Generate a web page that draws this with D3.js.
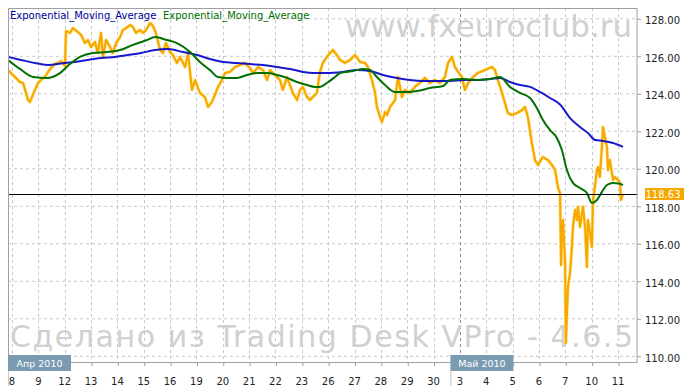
<!DOCTYPE html>
<html>
<head>
<meta charset="utf-8">
<script src="https://cdnjs.cloudflare.com/ajax/libs/d3/7.8.5/d3.min.js"></script>
<style>
body { margin: 0; background: #fff; }
svg text { font-family: "DejaVu Sans", Verdana, sans-serif; }
</style>
</head>
<body>
<div id="chart"></div>
<script>
// trading days shown on the axis (index = position on the time scale)
var days = ["8","9","12","13","14","15","16","19","20","21","22","23","26",
            "27","28","29","30","3","4","5","6","7","10","11"];
var monthLabels = ["Апр 2010", "Май 2010"];
var monthStart = [0, 17];
var yTicks = [110, 112, 114, 116, 118, 120, 122, 124, 126, 128];
var lastPrice = 118.63;
var legendNames = ["Exponential_Moving_Average", "Exponential_Moving_Average"];

// [trading day, price]
var price = [
[-0.15,125.24],[-0.04,125.08],[0.11,124.87],[0.30,124.60],[0.42,124.55],[0.53,124.02],[0.61,123.64],[0.68,123.54],
[0.76,123.80],[0.87,124.18],[0.99,124.55],[1.10,124.71],[1.25,124.87],[1.37,125.14],[1.48,125.35],[1.63,125.56],
[1.75,125.62],[1.86,125.72],[2.01,125.46],[2.05,127.32],[2.20,127.22],[2.31,127.48],[2.50,127.27],[2.62,127.11],
[2.77,126.68],[2.88,126.84],[3.00,126.47],[3.15,126.74],[3.26,126.15],[3.38,127.22],[3.45,125.94],[3.57,126.84],
[3.72,126.47],[3.83,126.15],[3.95,126.68],[4.10,127.00],[4.21,127.38],[4.33,127.48],[4.48,127.64],[4.59,127.54],
[4.71,127.22],[4.86,127.38],[4.97,127.22],[5.09,127.38],[5.24,127.75],[5.35,127.59],[5.46,127.22],[5.62,126.31],
[5.73,126.15],[5.84,126.68],[6.00,126.20],[6.11,126.04],[6.26,125.62],[6.38,125.94],[6.57,125.40],[6.68,126.15],
[6.83,124.18],[6.95,124.71],[7.13,124.02],[7.32,123.80],[7.44,123.27],[7.59,123.54],[7.70,123.91],[7.82,124.34],
[7.97,124.71],[8.08,125.08],[8.27,125.14],[8.46,125.40],[8.65,125.51],[8.84,125.62],[9.03,125.35],[9.15,125.08],
[9.34,125.40],[9.53,125.24],[9.68,124.71],[9.79,125.24],[9.98,124.98],[10.17,124.71],[10.28,124.18],[10.44,124.87],
[10.55,124.44],[10.66,124.02],[10.82,123.64],[10.93,124.18],[11.04,124.34],[11.20,123.80],[11.31,123.64],[11.42,123.80],
[11.57,124.02],[11.69,125.14],[11.80,125.62],[11.95,125.94],[12.07,126.15],[12.18,126.31],[12.33,126.04],[12.45,125.78],
[12.64,125.62],[12.83,125.78],[13.02,126.04],[13.21,125.67],[13.40,125.62],[13.51,125.40],[13.66,124.71],[13.78,124.02],
[13.85,123.27],[13.97,122.74],[14.04,122.47],[14.16,123.00],[14.23,122.84],[14.35,123.27],[14.54,123.64],[14.65,124.87],
[14.80,123.80],[14.91,124.18],[15.10,124.02],[15.29,124.34],[15.48,124.55],[15.67,124.82],[15.86,124.55],[16.05,124.71],
[16.24,124.55],[16.43,124.87],[16.55,125.62],[16.70,125.94],[16.81,125.40],[16.93,125.14],[17.08,124.87],[17.19,124.18],
[17.31,124.55],[17.50,124.87],[17.68,125.08],[17.95,125.24],[18.22,125.40],[18.33,125.24],[18.44,124.71],[18.60,124.02],
[18.71,123.48],[18.82,122.95],[18.98,122.84],[19.17,122.95],[19.36,123.11],[19.47,123.27],[19.58,122.74],[19.73,121.35],
[19.85,120.44],[19.96,120.18],[20.15,120.60],[20.34,120.44],[20.49,120.18],[20.61,119.91],[20.72,119.00],[20.80,118.68],
[20.84,114.84],[20.87,116.55],[20.91,117.24],[20.99,115.11],[21.02,110.68],[21.10,113.67],[21.18,114.42],[21.25,115.80],
[21.29,116.87],[21.37,117.78],[21.44,117.24],[21.48,117.95],[21.56,116.87],[21.67,117.95],[21.75,116.87],[21.82,114.74],
[21.86,117.24],[21.94,116.55],[22.01,115.80],[22.05,118.31],[22.12,119.00],[22.20,119.91],[22.24,120.07],[22.31,119.54],
[22.39,121.14],[22.43,122.20],[22.50,121.67],[22.58,121.14],[22.62,119.91],[22.69,120.44],[22.81,119.38],[22.88,119.54],
[23.00,119.38],[23.08,119.22],[23.11,118.31],[23.19,118.63]
];

// slow EMA (blue)
var emaSlow = [
[-0.15,125.94],[0.34,125.78],[0.87,125.62],[1.44,125.51],[2.01,125.62],[2.39,125.67],[2.88,125.78],[3.38,125.88],
[3.91,125.94],[4.40,126.04],[4.90,126.15],[5.43,126.31],[5.92,126.36],[6.49,126.20],[7.02,126.04],[7.51,125.83],
[8.01,125.67],[8.54,125.62],[9.03,125.56],[9.53,125.51],[10.06,125.40],[10.55,125.30],[11.04,125.14],[11.42,125.08],
[11.95,125.08],[12.56,125.14],[13.09,125.24],[13.59,125.19],[14.08,124.98],[14.61,124.82],[15.10,124.71],[15.60,124.66],
[16.13,124.66],[16.62,124.66],[17.12,124.71],[17.65,124.71],[18.14,124.76],[18.52,124.82],[18.90,124.60],[19.28,124.44],
[19.66,124.34],[20.04,124.07],[20.42,123.75],[20.80,123.40],[21.18,122.68],[21.56,122.20],[21.86,121.88],[22.13,121.51],
[22.43,121.46],[22.81,121.35],[23.19,121.14]
];

// fast EMA (green)
var emaFast = [
[-0.15,125.78],[0.30,125.30],[0.80,124.87],[1.33,124.82],[1.82,125.08],[2.20,125.56],[2.58,125.94],[3.07,126.15],
[3.61,126.20],[4.10,126.31],[4.59,126.58],[5.12,126.84],[5.43,127.00],[5.88,126.84],[6.26,126.68],[6.76,126.20],
[7.13,125.67],[7.51,125.24],[7.82,124.87],[8.16,124.82],[8.54,124.82],[8.92,124.98],[9.30,125.08],[9.68,125.08],
[10.06,124.98],[10.44,124.82],[10.82,124.60],[11.20,124.44],[11.50,124.34],[11.69,124.34],[11.95,124.55],[12.26,124.87],
[12.45,125.08],[12.94,125.19],[13.32,125.30],[13.59,125.24],[13.85,124.87],[14.16,124.44],[14.54,124.07],[14.99,124.07],
[15.37,124.12],[15.86,124.28],[16.36,124.39],[16.62,124.71],[17.12,124.76],[17.65,124.71],[18.14,124.76],[18.52,124.87],
[18.90,124.34],[19.28,124.02],[19.66,123.75],[19.92,123.22],[20.15,122.58],[20.42,122.04],[20.68,121.62],[20.87,120.98],
[21.06,119.91],[21.29,119.22],[21.56,118.95],[21.82,118.68],[22.01,118.15],[22.20,118.31],[22.39,118.74],[22.58,119.11],
[22.81,119.22],[23.08,119.17],[23.19,119.11]
];

var W = 691, H = 392;
var plot = {left: 8, top: 8, right: 637.5, bottom: 362};

var svg = d3.select("#chart").append("svg")
    .attr("width", W)
    .attr("height", H);

var x = d3.scaleLinear().domain([0, days.length - 1]).range([12, 618]);
var y = d3.scaleLinear().domain([110, 128]).range([355.8, 18.3]);

svg.append("clipPath").attr("id", "clip")
  .append("rect")
    .attr("x", plot.left).attr("y", plot.top)
    .attr("width", plot.right - plot.left).attr("height", plot.bottom - plot.top);

// grid
var grid = svg.append("g");
grid.selectAll("line.h").data(yTicks).enter().append("line")
    .attr("x1", plot.left).attr("x2", plot.right)
    .attr("y1", function(d) { return y(d) + 0.5; })
    .attr("y2", function(d) { return y(d) + 0.5; })
    .attr("stroke", "#c8c8c8")
    .attr("stroke-dasharray", "3,3");
grid.selectAll("line.v").data(d3.range(days.length)).enter().append("line")
    .attr("x1", function(d) { return Math.round(x(d)) + 0.5; })
    .attr("x2", function(d) { return Math.round(x(d)) + 0.5; })
    .attr("y1", plot.top).attr("y2", plot.bottom)
    .attr("stroke", function(d) { return monthStart.indexOf(d) > 0 ? "#8a8a8a" : "#c8c8c8"; })
    .attr("stroke-dasharray", "3,3");

// watermarks
svg.append("text")
    .attr("x", 345).attr("y", 37)
    .attr("textLength", 287).attr("lengthAdjust", "spacingAndGlyphs")
    .style("font-size", "30px").attr("fill", "#d0d0d0")
    .text("www.fxeuroclub.ru");
svg.append("text")
    .attr("x", 10).attr("y", 347)
    .attr("textLength", 623)
    .style("font-size", "30px").attr("fill", "#d0d0d0")
    .text("Сделано из Trading Desk VPro - 4.6.5");

// series
var line = d3.line()
    .x(function(d) { return x(d[0]); })
    .y(function(d) { return y(d[1]); });
var smooth = d3.line()
    .x(function(d) { return x(d[0]); })
    .y(function(d) { return y(d[1]); })
    .curve(d3.curveMonotoneX);

var series = svg.append("g").attr("clip-path", "url(#clip)");
series.append("path").datum(price)
    .attr("d", line).attr("fill", "none")
    .attr("stroke", "#ffe58a").attr("stroke-width", 3.4)
    .attr("stroke-linejoin", "round");
series.append("path").datum(price)
    .attr("d", line).attr("fill", "none")
    .attr("stroke", "#f7a800").attr("stroke-width", 2.1)
    .attr("stroke-linejoin", "round");
series.append("path").datum(emaSlow)
    .attr("d", smooth).attr("fill", "none")
    .attr("stroke", "#0000c8").attr("stroke-width", 2)
    .attr("stroke-opacity", 0.9);
series.append("path").datum(emaFast)
    .attr("d", smooth).attr("fill", "none")
    .attr("stroke", "#007000").attr("stroke-width", 2);

// last price line
svg.append("line")
    .attr("x1", plot.left).attr("x2", plot.right)
    .attr("y1", Math.round(y(lastPrice)) + 0.5).attr("y2", Math.round(y(lastPrice)) + 0.5)
    .attr("stroke", "#000");

// legend
svg.selectAll("text.legend").data(legendNames).enter().append("text")
    .attr("class", "legend")
    .attr("x", function(d, i) { return i == 0 ? 10 : 163; })
    .attr("y", 19)
    .style("font-size", "10px")
    .attr("fill", function(d, i) { return i == 0 ? "#00009c" : "#007000"; })
    .text(function(d) { return d; });

// frame
svg.append("rect")
    .attr("x", plot.left + 0.5).attr("y", plot.top + 0.5)
    .attr("width", plot.right - plot.left - 1).attr("height", plot.bottom - plot.top)
    .attr("fill", "none").attr("stroke", "#a0a0a0");

// y axis
var yAxis = svg.append("g")
    .attr("transform", "translate(" + (plot.right - 0.5) + ",0.5)")
    .call(d3.axisRight(y).tickValues(yTicks).tickSize(4).tickPadding(4)
          .tickFormat(d3.format(".2f")));
yAxis.select(".domain").remove();
yAxis.selectAll("line").attr("stroke", "#a0a0a0");
yAxis.selectAll("text")
    .attr("dy", "0.5em")
    .style("font-size", "10px").attr("fill", "#222");

// x axis
var xAxis = svg.append("g")
    .attr("transform", "translate(0.5," + plot.bottom + ")")
    .call(d3.axisBottom(x).tickValues(d3.range(days.length)).tickSize(4)
          .tickFormat(function(i) { return days[i]; }));
xAxis.select(".domain").remove();
xAxis.selectAll("line").attr("stroke", "#a0a0a0");
xAxis.selectAll("text")
    .attr("y", 16).attr("dx", "-1")
    .style("font-size", "10px").attr("fill", "#222");

// month tags
var months = svg.selectAll("g.month").data(monthLabels).enter().append("g")
    .attr("class", "month");
months.append("rect")
    .attr("x", function(d, i) { return Math.max(plot.left, x(monthStart[i]) - 9.5); })
    .attr("y", 355).attr("width", 63).attr("height", 16)
    .attr("fill", "#7b9bb3");
months.append("line")
    .attr("x1", function(d, i) { return Math.max(plot.left, x(monthStart[i]) - 9.5) + 0.5; })
    .attr("x2", function(d, i) { return Math.max(plot.left, x(monthStart[i]) - 9.5) + 0.5; })
    .attr("y1", 371).attr("y2", 386)
    .attr("stroke", "#c8c8c8");
months.append("text")
    .attr("x", function(d, i) { return Math.max(plot.left, x(monthStart[i]) - 9.5) + 31.5; })
    .attr("y", 367)
    .attr("text-anchor", "middle")
    .style("font-size", "9.5px").attr("fill", "#fff")
    .text(function(d) { return d; });

// last price tag
svg.append("rect")
    .attr("x", 645).attr("y", y(lastPrice) - 6)
    .attr("width", 39).attr("height", 12)
    .attr("fill", "#f5a800");
svg.append("text")
    .attr("x", 645.5).attr("y", y(lastPrice) + 4)
    .style("font-size", "10px").attr("fill", "#fff")
    .text(d3.format(".2f")(lastPrice));
</script>
</body>
</html>
